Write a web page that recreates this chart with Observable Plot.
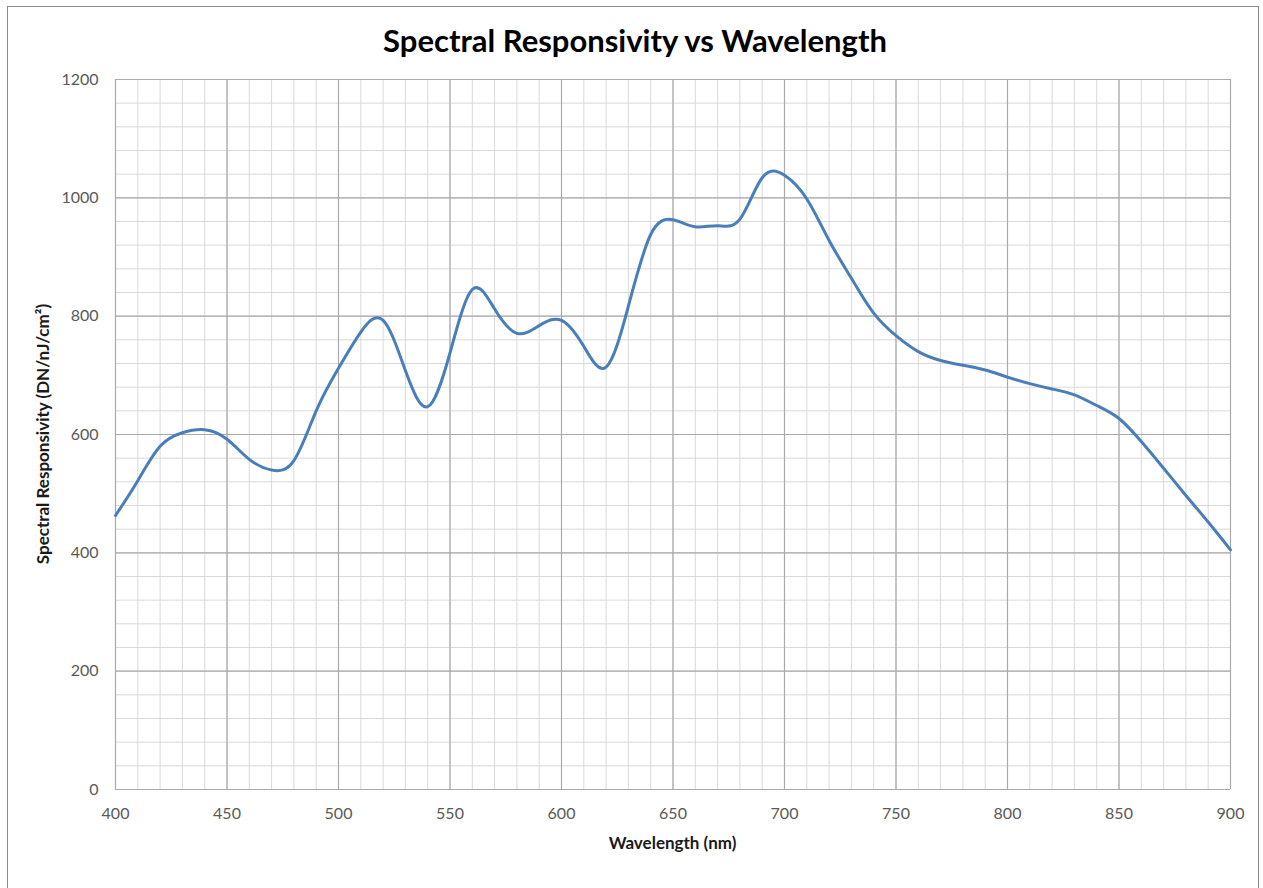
<!DOCTYPE html>
<html>
<head>
<meta charset="utf-8">
<script src="https://cdn.jsdelivr.net/npm/d3@7"></script>
<script src="https://cdn.jsdelivr.net/npm/@observablehq/plot@0.6"></script>
<style>
  html, body { margin: 0; padding: 0; background: #fff; overflow: hidden; }
  #wrap { position: relative; width: 1263px; height: 888px; font-family: Lato, "Open Sans", sans-serif; }
  #border { position: absolute; left: 7px; top: 6px; width: 1252px; height: 900px; border: 1px solid #8c8c8c; box-sizing: border-box; }
  #title { position: absolute; left: 0; width: 1270px; top: 21px; text-align: center; font-weight: bold; font-size: 31px; color: #000; }
  #xlabel { position: absolute; left: 115px; width: 1115px; top: 832px; text-align: center; font-weight: bold; font-size: 17px; color: #1a1a1a; }
  #ylabel { position: absolute; left: 42px; top: 434px; transform: translate(-50%, -50%) rotate(-90deg); white-space: nowrap; font-weight: bold; font-size: 17px; color: #1a1a1a; }
  #chart { position: absolute; left: 0; top: 0; }
</style>
</head>
<body>
<div id="wrap">
  <div id="border"></div>
  <div id="chart"></div>
  <div id="title">Spectral Responsivity vs Wavelength</div>
  <div id="xlabel">Wavelength (nm)</div>
  <div id="ylabel">Spectral Responsivity (DN/nJ/cm²)</div>
</div>
<script>
const wavelengths = [400,410,420,430,440,450,460,470,480,490,500,510,520,530,540,550,560,570,580,590,600,610,620,630,640,650,660,670,680,690,700,710,720,730,740,750,760,770,780,790,800,810,820,830,840,850,860,870,880,890,900];
const responsivity = [463,522,580,603,608,592,558,540,556,640,712,773,793,708,647,738,845,812,771,784,793,749,714,817,938,963,951,953,964,1034,1038,998,928,864,805,767,740,725,717,709,697,686,677,667,649,627,588,543,497,452,405];
const xTicks = [400,450,500,550,600,650,700,750,800,850,900];
const yTicks = [0,200,400,600,800,1000,1200];
const xMinor = d3.range(400, 901, 10);
const yMinor = d3.range(0, 1201, 40);

const data = wavelengths.map((w, i) => ({w, r: responsivity[i]}));

const chart = Plot.plot({
  width: 1263,
  height: 888,
  marginLeft: 115,
  marginRight: 33,
  marginTop: 79,
  marginBottom: 99,
  style: { fontFamily: "Lato, 'Open Sans', sans-serif", fontSize: "16px", color: "#595959", background: "transparent" },
  x: { domain: [400, 900], label: null },
  y: { domain: [0, 1200], label: null },
  marks: [
    Plot.ruleX(xMinor, {stroke: "#d9d9d9", strokeWidth: 1}),
    Plot.ruleY(yMinor, {stroke: "#d9d9d9", strokeWidth: 1}),
    Plot.ruleX(xTicks, {stroke: "#aaaaaa", strokeWidth: 1.2}),
    Plot.ruleY(yTicks, {stroke: "#aaaaaa", strokeWidth: 1.2}),
    Plot.line(data, {x: "w", y: "r", curve: "natural", stroke: "#4a7ebb", strokeWidth: 3}),
    Plot.axisX(xTicks, {tickSize: 0, tickPadding: 18, fill: "#595959", fontSize: 16, tickFormat: d => String(d)}),
    Plot.axisY(yTicks, {tickSize: 0, tickPadding: 17, fill: "#595959", fontSize: 16, tickFormat: d => String(d)})
  ]
});
document.getElementById("chart").appendChild(chart);
</script>
</body>
</html>
